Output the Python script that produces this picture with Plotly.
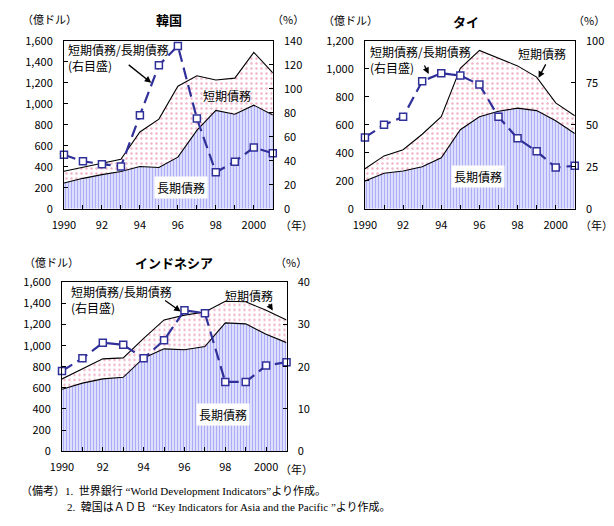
import plotly.graph_objects as go

years = list(range(1990, 2002))

# Korea (億ドル, %)
kr_long = [246, 290, 325, 355, 403, 394, 492, 748, 938, 902, 988, 895]
kr_total = [357, 395, 430, 471, 732, 855, 1169, 1268, 1228, 1246, 1492, 1295]
kr_ratio = [45.0, 39.6, 37.2, 35.3, 78.1, 119.8, 135.9, 75.4, 30.4, 39.3, 51.1, 46.3]

# Thailand
th_long = [198, 254, 270, 300, 365, 565, 658, 697, 720, 702, 630, 538]
th_total = [286, 378, 422, 533, 658, 1004, 1133, 1075, 1022, 942, 757, 665]
th_ratio = [42.5, 50.0, 54.8, 76.0, 80.8, 79.4, 74.0, 54.8, 42.0, 34.2, 24.6, 25.6]

# Indonesia
id_long = [587, 645, 685, 700, 884, 970, 961, 992, 1216, 1207, 1109, 1029]
id_total = [685, 783, 875, 884, 1069, 1244, 1290, 1320, 1422, 1416, 1336, 1244]
id_ratio = [19.0, 22.0, 25.7, 25.2, 22.0, 26.3, 33.4, 32.7, 16.4, 16.4, 20.3, 21.1]

x_tickvals = years
x_ticktext = ["1990", "", "92", "", "94", "", "96", "", "98", "", "2000", ""]

W, H = 614, 526
FONT = "Noto Sans CJK JP, Noto Sans, sans-serif"
LINE_BLUE = "#30309a"

fig = go.Figure()

panels = [
    dict(long=kr_long, total=kr_total, ratio=kr_ratio, n=1, ly=1, ry=2,
         lmax=1600, ldt=200, rmax=140, rdt=20, dx=(53, 266), dy=(33, 206)),
    dict(long=th_long, total=th_total, ratio=th_ratio, n=2, ly=3, ry=4,
         lmax=1200, ldt=200, rmax=100, rdt=25, dx=(360, 574), dy=(33, 206)),
    dict(long=id_long, total=id_total, ratio=id_ratio, n=3, ly=5, ry=6,
         lmax=1600, ldt=200, rmax=40, rdt=10, dx=(51, 280), dy=(282, 456)),
]

def ax_name(prefix, n):
    return prefix if n == 1 else f"{prefix}{n}"

layout_axes = {}
for p in panels:
    xa = ax_name("x", p["n"])
    yl = ax_name("y", p["ly"])
    yr = ax_name("y", p["ry"])
    fig.add_trace(go.Scatter(
        x=years, y=p["long"], xaxis=xa, yaxis=yl, mode="lines",
        line=dict(color="black", width=1.1), fill="tozeroy",
        fillcolor="white",
        fillpattern=dict(shape="|", fgcolor="#6464ee", bgcolor="#f4f4ff", size=3, solidity=0.55),
        showlegend=False, hoverinfo="skip"))
    fig.add_trace(go.Scatter(
        x=years, y=p["total"], xaxis=xa, yaxis=yl, mode="lines",
        line=dict(color="black", width=1.1), fill="tonexty",
        fillcolor="white",
        fillpattern=dict(shape=".", fgcolor="#e0608f", bgcolor="white", size=5, solidity=0.18),
        showlegend=False, hoverinfo="skip"))
    fig.add_trace(go.Scatter(
        x=years, y=p["ratio"], xaxis=xa, yaxis=yr, mode="lines+markers",
        line=dict(color=LINE_BLUE, width=2.2, dash="12px,6px"),
        marker=dict(symbol="square", size=7, color="white", line=dict(color=LINE_BLUE, width=1.5)),
        showlegend=False, hoverinfo="skip", cliponaxis=False))

    dx0, dx1 = p["dx"]
    dy0, dy1 = p["dy"]
    xdom = [dx0 / W, dx1 / W]
    ydom = [1 - dy1 / H, 1 - dy0 / H]
    xkey = "xaxis" if p["n"] == 1 else f"xaxis{p['n']}"
    ylkey = "yaxis" if p["ly"] == 1 else f"yaxis{p['ly']}"
    yrkey = f"yaxis{p['ry']}"
    layout_axes[xkey] = dict(
        domain=xdom, anchor=yl, range=[1990, 2001], tickvals=x_tickvals, ticktext=x_ticktext,
        ticks="inside", ticklen=4, tickcolor="black", showgrid=False, zeroline=False,
        showline=True, linecolor="black", linewidth=1, mirror=True,
        tickfont=dict(size=11, color="black", family=FONT), ticklabelstandoff=6)
    lvals = list(range(0, p["lmax"] + 1, p["ldt"]))
    layout_axes[ylkey] = dict(
        domain=ydom, anchor=xa, range=[0, p["lmax"]], tickvals=lvals,
        ticktext=[f"{v:,}" for v in lvals],
        ticks="inside", ticklen=4, tickcolor="black", showgrid=False, zeroline=False,
        showline=True, linecolor="black", linewidth=1, mirror=True,
        tickfont=dict(size=11, color="black", family=FONT), ticklabelstandoff=8)
    rvals = list(range(0, p["rmax"] + 1, p["rdt"]))
    layout_axes[yrkey] = dict(
        overlaying=yl, anchor=xa, side="right", range=[0, p["rmax"]], tickvals=rvals,
        ticks="inside", ticklen=4, tickcolor="black", showgrid=False, zeroline=False,
        showline=True, linecolor="black", linewidth=1,
        tickfont=dict(size=11, color="black", family=FONT), ticklabelstandoff=8)

ann = []

def txt(text, x, y, size=11, xanchor="center", bg=None, align="left", bold=False):
    if bold:
        text = f"<b>{text}</b>"
    d = dict(text=text, x=x / W, y=1 - y / H, xref="paper", yref="paper", showarrow=False,
             xanchor=xanchor, yanchor="middle", align=align,
             font=dict(size=size, color="black", family=FONT))
    if bg:
        d["bgcolor"] = bg
        d["borderpad"] = 2
    ann.append(d)

def arrow(tx, ty, hx, hy):
    ann.append(dict(text="", x=hx / W, y=1 - hy / H, xref="paper", yref="paper",
                    showarrow=True, ax=tx - hx, ay=ty - hy, arrowhead=2, arrowsize=1,
                    arrowwidth=1.3, arrowcolor="black"))

# Titles and units
txt("韓国", 160, 11, size=13, bold=True)
txt("タイ", 463, 13, size=13, bold=True)
txt("インドネシア", 165, 261, size=13, bold=True)
for x, y in [(38, 10), (345, 11), (40, 261)]:
    txt("（億ドル）", x, y, size=11)
for x, y in [(281, 10), (589, 11), (285, 261)]:
    txt("（%）", x, y, size=11)
for x, y in [(290, 223), (596, 223), (290, 474)]:
    txt("（年）", x, y, size=11)

# Korea
txt("短期債務/長期債務<br>(右目盛)", 55, 50, size=12, xanchor="left")
arrow(118, 57, 142, 76)
txt("短期債務", 219, 89, size=12)
txt("長期債務", 172, 184, size=12, bg="white")

# Thailand
txt("短期債務/長期債務<br>(右目盛)", 363, 52, size=12, xanchor="left")
arrow(420, 57, 425, 67)
txt("短期債務", 541, 46, size=12)
arrow(545, 56, 537, 71)
txt("長期債務", 475, 173, size=12, bg="white")

# Indonesia
txt("短期債務/長期債務<br>(右目盛)", 58, 300, size=12, xanchor="left")
arrow(155, 300, 172, 312)
txt("短期債務", 242, 295, size=12)
arrow(261, 303, 266, 311)
txt("長期債務", 215, 418, size=12, bg="white")

# Footnotes
FN = "Liberation Serif, Noto Sans CJK JP, serif"
ann.append(dict(text="（備考）1.  世界銀行 “World Development Indicators”より作成。",
                x=7 / W, y=1 - 497 / H, xref="paper", yref="paper", showarrow=False,
                xanchor="left", yanchor="middle", font=dict(size=11, color="black", family=FN)))
ann.append(dict(text="2.  韓国はＡＤＢ  “Key Indicators for Asia and the Pacific ”より作成。",
                x=54 / W, y=1 - 514 / H, xref="paper", yref="paper", showarrow=False,
                xanchor="left", yanchor="middle", font=dict(size=11, color="black", family=FN)))

fig.update_layout(
    width=W, height=H, margin=dict(l=0, r=0, t=0, b=0),
    paper_bgcolor="white", plot_bgcolor="white",
    font=dict(family=FONT, color="black"),
    annotations=ann, showlegend=False, **layout_axes)

fig.write_html("out.html")
